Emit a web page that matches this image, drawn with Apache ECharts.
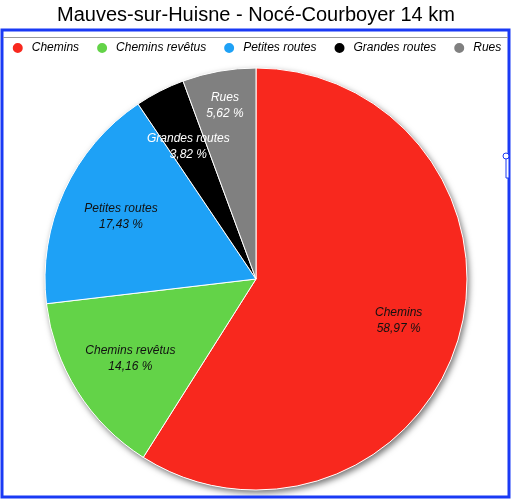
<!DOCTYPE html>
<html><head><meta charset="utf-8">
<script src="https://cdn.jsdelivr.net/npm/echarts@6/dist/echarts.min.js"></script>
<style>html,body{margin:0;padding:0;background:#fff}#c{width:512px;height:500px}</style>
</head><body><div id="c"></div>
<script>
const titleText = 'Mauves-sur-Huisne - Nocé-Courboyer 14 km';
const categories = ['Chemins', 'Chemins revêtus', 'Petites routes', 'Grandes routes', 'Rues'];
const values = [58.97, 14.16, 17.43, 3.82, 5.62];
const colors = ['#f8281e', '#63d348', '#1ea1f6', '#000000', '#808080'];
const labelColors = ['#111', '#111', '#111', '#fff', '#fff'];

const fmt = v => v.toFixed(2).replace('.', ',') + ' %';
const font = '"Liberation Sans", Arial, sans-serif';

const chart = echarts.init(document.getElementById('c'), null, {renderer: 'canvas'});
const center = [256, 279];
const R = 211;

chart.setOption({
  animation: false,
  color: colors,
  title: {
    text: titleText, left: 'center', top: 0,
    textStyle: {fontFamily: font, fontSize: 20, fontWeight: 'normal', color: '#000'}
  },
  legend: {
    top: 36, left: 'center', width: 506, icon: 'circle', itemWidth: 12, itemHeight: 12, itemGap: 16,
    data: categories,
    textStyle: {fontFamily: font, fontSize: 12, fontStyle: 'italic', color: '#000', padding: [0,0,0,3]}
  },
  graphic: [
    {type: 'rect', shape: {x: 2, y: 30, width: 507, height: 467}, style: {fill: 'none', stroke: '#1a3af5', lineWidth: 3}, z: 10},
    {type: 'line', shape: {x1: 3, y1: 37.5, x2: 508, y2: 37.5}, style: {stroke: '#9a9a9a', lineWidth: 1}, z: 10},
    {type: 'rect', shape: {x: 506, y: 158, width: 3, height: 20}, style: {fill: '#fff', stroke: '#1a3af5', lineWidth: 1}, z: 11},
    {type: 'circle', shape: {cx: 506, cy: 156, r: 3}, style: {fill: '#fff', stroke: '#1a3af5', lineWidth: 1}, z: 11}
  ],
  series: [
    {
      type: 'pie', center: center, radius: R, silent: true, z: 1,
      label: {show: false}, labelLine: {show: false},
      itemStyle: {color: '#fff', shadowBlur: 6, shadowOffsetX: 2, shadowOffsetY: 3, shadowColor: 'rgba(0,0,0,0.55)'},
      data: [{value: 1, name: '_bg'}]
    },
    {
      type: 'pie', center: center, radius: R, startAngle: 90, clockwise: true, z: 2,
      label: {show: false}, labelLine: {show: false},
      itemStyle: {borderColor: '#fff', borderWidth: 1},
      emphasis: {disabled: true},
      data: categories.map((n, i) => ({name: n, value: values[i]}))
    },
    {
      type: 'pie', center: center, radius: [Math.round(R * 0.38), R], startAngle: 90, clockwise: true, z: 3,
      silent: true, labelLine: {show: false},
      itemStyle: {color: 'rgba(0,0,0,0)'},
      label: {
        show: true, position: 'inside', fontFamily: font, fontSize: 12, fontStyle: 'italic', lineHeight: 16,
        formatter: p => p.name + '\n' + fmt(values[p.dataIndex])
      },
      data: categories.map((n, i) => ({
        name: n, value: values[i],
        label: Object.assign({color: labelColors[i]}, n === 'Rues' ? {offset: [-5, -27]} : {})
      }))
    }
  ]
});
</script></body></html>
